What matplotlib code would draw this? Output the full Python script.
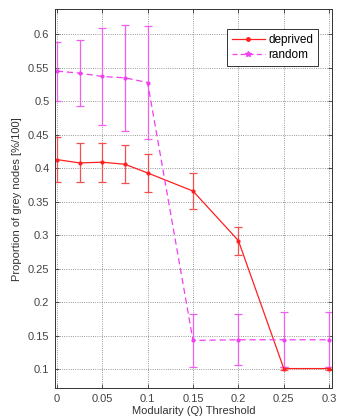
import numpy as np
import matplotlib
matplotlib.use('Agg')
import matplotlib.pyplot as plt
from matplotlib.ticker import FuncFormatter
from matplotlib.lines import Line2D

# Modularity thresholds
thresholds = [0, 0.025, 0.05, 0.075, 0.1, 0.15, 0.2, 0.25, 0.3]

# Proportion of grey nodes (mean and error)
deprived_mean = [0.413, 0.408, 0.409, 0.406, 0.393, 0.366, 0.292, 0.101, 0.101]
deprived_err = [0.033, 0.029, 0.029, 0.028, 0.028, 0.027, 0.021, 0.002, 0.002]
random_mean = [0.545, 0.542, 0.537, 0.535, 0.528, 0.143, 0.144, 0.144, 0.144]
random_err = [0.044, 0.049, 0.072, 0.079, 0.084, 0.040, 0.038, 0.041, 0.041]

x_ticks = [0, 0.05, 0.1, 0.15, 0.2, 0.25, 0.3]
y_ticks = [0.1, 0.15, 0.2, 0.25, 0.3, 0.35, 0.4, 0.45, 0.5, 0.55, 0.6]

plt.rcParams['font.family'] = ['Liberation Sans', 'DejaVu Sans']

fig = plt.figure(figsize=(3.49, 4.2), dpi=100)
ax = fig.add_axes([0.1576, 0.0762, 0.951 - 0.1576, 0.9774 - 0.0762])

red = '#ff2020'
mag = '#f040f0'
ax.errorbar(thresholds, deprived_mean, yerr=deprived_err, color=red,
            ecolor='#f05050', linestyle='-', linewidth=0.9, marker='.',
            markersize=4, capsize=3, elinewidth=0.9, capthick=0.9)
ax.errorbar(thresholds, random_mean, yerr=random_err, color=mag,
            ecolor='#f060f0', linestyle=(0, (5, 3)), linewidth=0.9, marker='.',
            markersize=4, capsize=3, elinewidth=0.9, capthick=0.9)

ax.set_xlim(-0.002, 0.303)
ax.set_ylim(0.072, 0.637)
ax.set_xticks(x_ticks)
ax.set_yticks(y_ticks)
fmt = FuncFormatter(lambda v, p: '%g' % round(v, 3))
ax.xaxis.set_major_formatter(fmt)
ax.yaxis.set_major_formatter(fmt)
ax.tick_params(direction='in', top=True, right=True, length=3, width=0.6,
               labelsize=8, labelcolor='#444444', colors='#333333', pad=4)
ax.grid(True, linestyle=':', color='#777777', linewidth=0.6)
for s in ax.spines.values():
    s.set_color('#333333')
    s.set_linewidth(0.7)

ax.set_xlabel('Modularity (Q) Threshold', fontsize=8, color='#333333', labelpad=2)
ax.set_ylabel('Proportion of grey nodes [%/100]', fontsize=8, color='#333333', labelpad=4)

handles = [Line2D([], [], color=red, linestyle='-', linewidth=0.9, marker='.', markersize=5),
           Line2D([], [], color=mag, linestyle=(0, (4, 2.5)), linewidth=0.9, marker='*', markersize=4)]
leg = ax.legend(handles, ['deprived', 'random'], loc='upper right',
                bbox_to_anchor=(0.949, 0.948), fontsize=8.5,
                fancybox=False, edgecolor='#333333', framealpha=1,
                borderpad=0.4, handlelength=2.8, handletextpad=0.3,
                labelspacing=0.25, borderaxespad=0)
leg.get_frame().set_linewidth(0.7)

fig.savefig('out.png', dpi=100)
